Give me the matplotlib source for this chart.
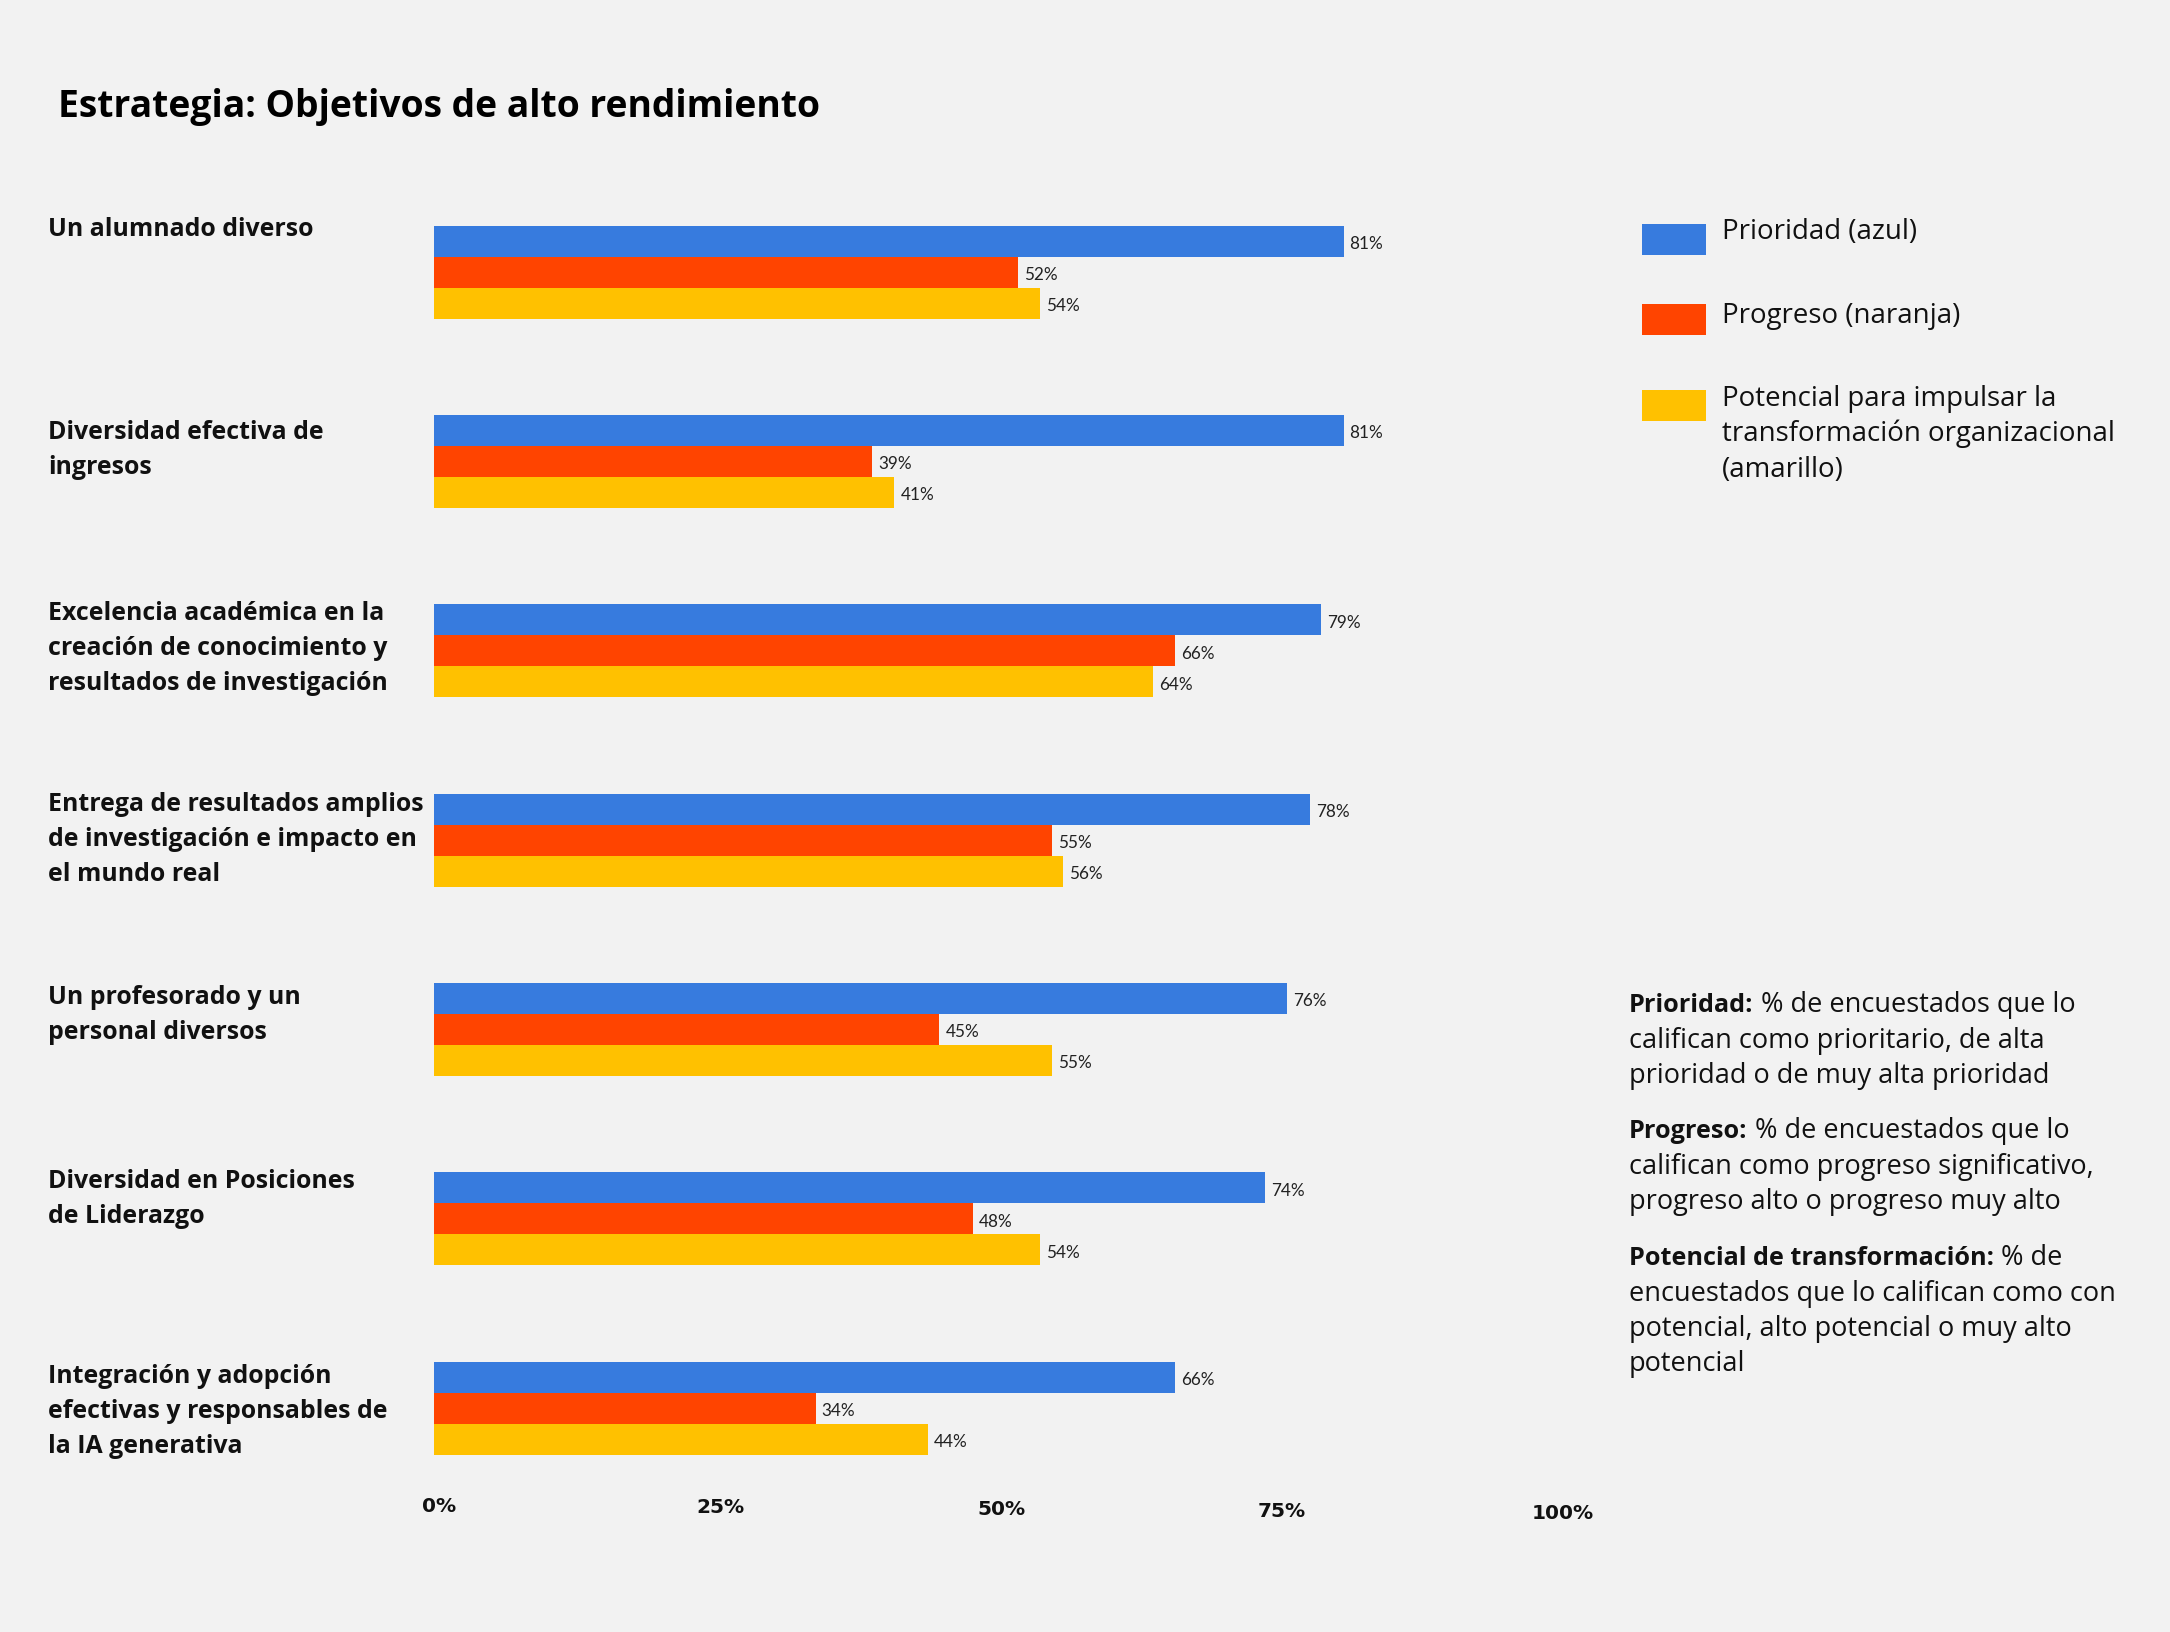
import matplotlib
matplotlib.use("Agg")
import matplotlib.pyplot as plt
from matplotlib.patches import Rectangle
from matplotlib.transforms import ScaledTranslation
import numpy as np

# ---------------- data ----------------
categories = [
    "Un alumnado diverso",
    "Diversidad efectiva de\ningresos",
    "Excelencia académica en la\ncreación de conocimiento y\nresultados de investigación",
    "Entrega de resultados amplios\nde investigación e impacto en\nel mundo real",
    "Un profesorado y un\npersonal diversos",
    "Diversidad en Posiciones\nde Liderazgo",
    "Integración y adopción\nefectivas y responsables de\nla IA generativa",
]
prioridad = [81, 81, 79, 78, 76, 74, 66]
progreso = [52, 39, 66, 55, 45, 48, 34]
potencial = [54, 41, 64, 56, 55, 54, 44]
series_names = [
    "Prioridad (azul)",
    "Progreso (naranja)",
    "Potencial para impulsar la\ntransformación organizacional\n(amarillo)",
]
x_ticks = [0, 25, 50, 75, 100]
x_tick_labels = ["0%", "25%", "50%", "75%", "100%"]
title = "Estrategia: Objetivos de alto rendimiento"
note_heads = ["Prioridad:", "Progreso:", "Potencial de transformación:"]
note_bodies = [
    [" % de encuestados que lo", "califican como prioritario, de alta",
     "prioridad o de muy alta prioridad"],
    [" % de encuestados que lo", "califican como progreso significativo,",
     "progreso alto o progreso muy alto"],
    [" % de", "encuestados que lo califican como con",
     "potencial, alto potencial o muy alto", "potencial"],
]

# ---------------- style / layout ----------------
colors = ["#377BDE", "#FF4400", "#FFC100"]
bg = "#F2F2F2"
txt = "#111111"
plt.rcParams["font.family"] = ["Open Sans", "DejaVu Sans"]

W, H = 2170, 1632
fig = plt.figure(figsize=(W / 100, H / 100), dpi=100, facecolor=bg)

def fx(px):
    return px / W

def fy(py):
    return 1 - py / H

x0_px, x100_px = 434, 1557
c0, sp = 272.3, 189.3           # first group centre, group spacing (px)
bar_px = 31.0
ax_top, ax_bot = 150, 1480
ax = fig.add_axes([fx(x0_px), fy(ax_bot), (x100_px - x0_px) / W, (ax_bot - ax_top) / H])
ax.set_facecolor(bg)
ax.set_xlim(0, 100)
ax.set_ylim((ax_bot - c0) / sp, (ax_top - c0) / sp)

h = bar_px / sp
y = np.arange(len(categories))
series = [prioridad, progreso, potencial]
for k, (vals, col) in enumerate(zip(series, colors)):
    cont = ax.barh(y + (k - 1) * h, vals, height=h, color=col, linewidth=0)
    lbls = ax.bar_label(cont, labels=[f"{v}%" for v in vals], padding=4.3,
                        fontsize=12.3, fontfamily="Lato", color="#222222")
    for t in lbls:
        t.xyann = (4.3, -2.0)

for s in ax.spines.values():
    s.set_visible(False)
ax.set_yticks([])
ax.set_xticks(x_ticks)
ax.set_xticklabels(x_tick_labels, fontfamily="DejaVu Sans", fontweight="bold",
                   fontsize=14.5, color=txt)
ax.tick_params(axis="x", length=0, pad=13)
for i, lab in enumerate(ax.get_xticklabels()):
    lab.set_transform(lab.get_transform() +
                      ScaledTranslation(5.5 / 100, (1.5 - 1.85 * i) / 100,
                                        fig.dpi_scale_trans))

# title
fig.text(fx(58), fy(117.3), title, fontsize=26.8, fontweight="bold",
         color="#000000", va="baseline", ha="left")

# category labels, line by line
label_dy = [10.7, 24, 15.3, 17.5, 21, 15.7, 21.3]
line_gap = 35.0
for i, cat in enumerate(categories):
    blue_top = c0 + i * sp - 1.5 * bar_px
    for j, line in enumerate(cat.split("\n")):
        fig.text(fx(48), fy(blue_top + label_dy[i] + j * line_gap), line,
                 fontsize=17.9, fontweight="bold", color=txt,
                 va="baseline", ha="left")

# legend (manual)
leg_tops = [224, 304, 390]
leg_base = [239, 322.7, 406]
for name, col, top, base in zip(series_names, colors, leg_tops, leg_base):
    fig.patches.append(Rectangle((fx(1642), fy(top + bar_px)), 64 / W, bar_px / H,
                                 transform=fig.transFigure, facecolor=col,
                                 edgecolor="none"))
    for j, line in enumerate(name.split("\n")):
        fig.text(fx(1722), fy(base + j * 35.5), line, fontsize=19.9,
                 color=txt, va="baseline", ha="left")

# notes: bold heading followed by regular text on the same baseline
note_base = [1012.3, 1138.3, 1265]
pairs = []
for head, body, base in zip(note_heads, note_bodies, note_base):
    hd = fig.text(fx(1629), fy(base), head, fontsize=18.2, fontweight="bold",
                  color=txt, va="baseline", ha="left")
    fr = fig.text(fx(1629), fy(base), body[0], fontsize=19.5, color=txt,
                  va="baseline", ha="left")
    pairs.append((hd, fr))
    for j, line in enumerate(body[1:], start=1):
        fig.text(fx(1629), fy(base + j * 35.5), line, fontsize=19.5,
                 color=txt, va="baseline", ha="left")

fig.canvas.draw()
renderer = fig.canvas.get_renderer()
for hd, fr in pairs:
    bb = hd.get_window_extent(renderer)
    fr.set_x(bb.x1 / fig.bbox.width)

fig.savefig("out.png", dpi=100, facecolor=bg)
